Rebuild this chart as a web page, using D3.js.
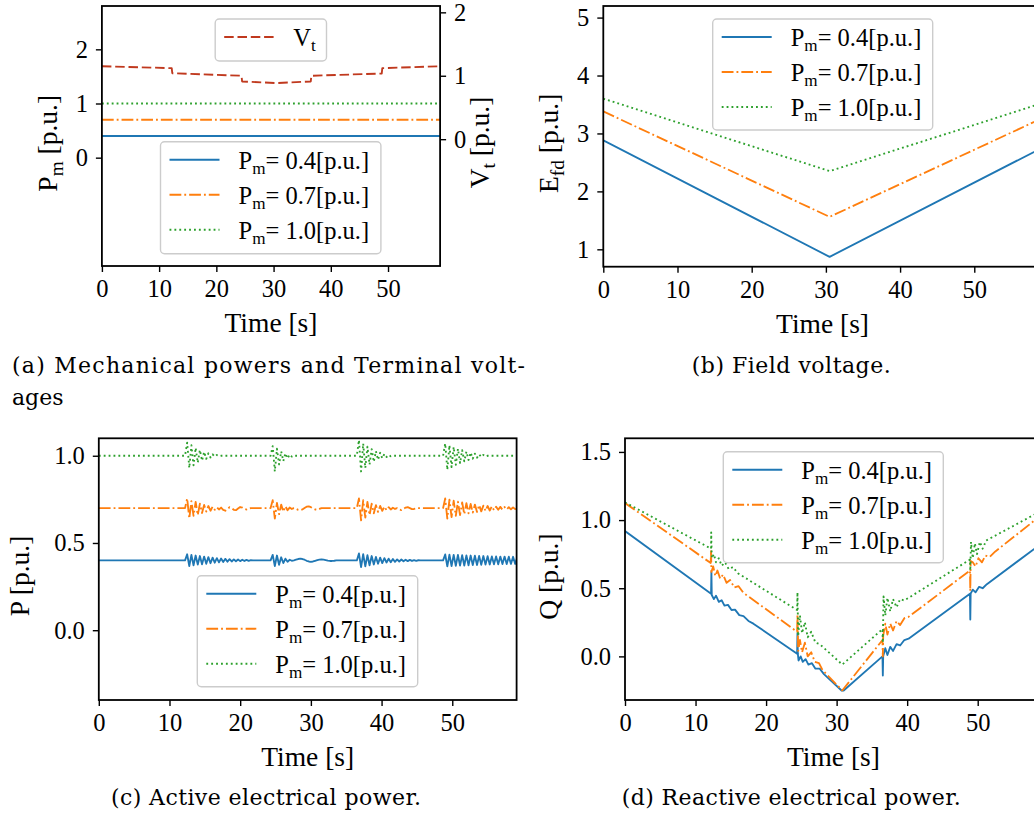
<!doctype html>
<html lang="en">
<head>
  <meta charset="utf-8">
  <title>Generator response to Pm steps</title>
  <script src="https://d3js.org/d3.v7.min.js"></script>
  <style>
    body { margin: 0; background: #fff; }
    svg text { fill: #000; white-space: pre; }
  </style>
</head>
<body>
<div id="chart"></div>
<script>
// ---------------- data ----------------
var tEnd = 59.1;                        // last simulated second
var xTicks = [0, 10, 20, 30, 40, 50];
var pmValues = [0.4, 0.7, 1.0];
var pmLabels = ["0.4", "0.7", "1.0"];

// (a) terminal voltage
var vtTime  = [0, 12.2, 12.3, 24.4, 24.5, 30.5, 36.5, 36.6, 48.9, 49.0, 59.1];
var vtValue = [1.15, 1.12, 1.04, 1.00, 0.91, 0.885, 0.91, 1.00, 1.035, 1.12, 1.15];

// (b) field voltage
var efdTime = [0, 30.5, 59.1];
var efd04 = [2.88, 0.87, 2.75];
var efd07 = [3.38, 1.56, 3.26];
var efd10 = [3.60, 2.35, 3.52];

// (c) active power: samples of the swing after each event, one every pStep seconds
var eventTimes = [12.2, 24.3, 36.5, 48.7];
var pStep = 0.3;
var p04Bursts = [
  [0.40, 0.435, 0.368, 0.432, 0.372, 0.428, 0.376, 0.425, 0.378, 0.422, 0.381, 0.419, 0.384, 0.416, 0.387, 0.413,
   0.389, 0.411, 0.391, 0.409, 0.393, 0.407, 0.394, 0.406, 0.395, 0.405, 0.396, 0.404, 0.397, 0.403, 0.398, 0.402, 0.40],
  [0.40, 0.432, 0.368, 0.428, 0.375, 0.418, 0.385, 0.41, 0.392, 0.404, 0.398, 0.40, 0.404, 0.408, 0.41, 0.408,
   0.404, 0.398, 0.394, 0.392, 0.394, 0.398, 0.402, 0.405, 0.406, 0.405, 0.402, 0.399, 0.397, 0.397, 0.398, 0.40],
  [0.40, 0.44, 0.362, 0.436, 0.366, 0.43, 0.372, 0.425, 0.377, 0.42, 0.381, 0.416, 0.385, 0.413, 0.388, 0.41,
   0.39, 0.408, 0.392, 0.406, 0.394, 0.405, 0.395, 0.404, 0.396, 0.403, 0.397, 0.402, 0.398, 0.401, 0.40],
  [0.40, 0.434, 0.366, 0.433, 0.368, 0.432, 0.369, 0.431, 0.37, 0.43, 0.371, 0.429, 0.372, 0.428, 0.373, 0.427,
   0.374, 0.426, 0.375, 0.425, 0.376, 0.424, 0.377, 0.423, 0.378, 0.423, 0.378, 0.422, 0.379, 0.422, 0.379, 0.421,
   0.38, 0.421, 0.38, 0.42]
];
var p07Bursts = [
  [0.70, 0.755, 0.64, 0.74, 0.655, 0.735, 0.66, 0.725, 0.672, 0.718, 0.68, 0.712, 0.685, 0.708, 0.69, 0.705,
   0.692, 0.703, 0.69, 0.685, 0.695, 0.705, 0.70, 0.69, 0.688, 0.697, 0.706, 0.703, 0.695, 0.692, 0.698, 0.70],
  [0.70, 0.745, 0.64, 0.73, 0.665, 0.72, 0.68, 0.71, 0.688, 0.703, 0.695, 0.70, 0.696, 0.69, 0.688, 0.692,
   0.70, 0.708, 0.71, 0.705, 0.698, 0.692, 0.69, 0.695, 0.70],
  [0.70, 0.755, 0.63, 0.745, 0.645, 0.735, 0.66, 0.725, 0.67, 0.717, 0.678, 0.712, 0.684, 0.708, 0.688, 0.705,
   0.692, 0.702, 0.695, 0.70, 0.692, 0.688, 0.695, 0.703, 0.705, 0.70, 0.694, 0.695, 0.70],
  [0.70, 0.755, 0.64, 0.748, 0.648, 0.742, 0.655, 0.737, 0.66, 0.732, 0.665, 0.728, 0.67, 0.724, 0.674, 0.72,
   0.678, 0.717, 0.681, 0.714, 0.684, 0.712, 0.686, 0.71, 0.688, 0.708, 0.69, 0.707, 0.691, 0.706, 0.692, 0.705,
   0.693, 0.704, 0.694, 0.704]
];
var p10Bursts = [
  [1.0, 1.075, 0.93, 1.06, 0.945, 1.045, 0.96, 1.033, 0.972, 1.022, 0.982, 1.014, 0.99, 1.008, 0.995, 1.004, 0.998, 1.0],
  [1.0, 1.055, 0.91, 1.04, 0.95, 1.025, 0.97, 1.014, 0.985, 1.007, 0.995, 1.002, 1.0],
  [1.0, 1.09, 0.91, 1.07, 0.93, 1.052, 0.95, 1.038, 0.965, 1.026, 0.977, 1.017, 0.986, 1.01, 0.993, 1.005, 0.997, 1.0],
  [1.0, 1.07, 0.92, 1.06, 0.935, 1.05, 0.948, 1.04, 0.958, 1.032, 0.968, 1.024, 0.976, 1.018, 0.983, 1.012,
   0.989, 1.008, 0.993, 1.005, 0.996, 1.0]
];

// (d) reactive power, [t, Q]
var q04 = [[0, 0.92], [12.2, 0.46], [12.25, 0.62], [12.3, 0.45], [12.6, 0.42], [12.9, 0.445], [13.3, 0.40],
  [13.7, 0.412], [14.1, 0.372], [14.6, 0.378], [15.1, 0.34], [15.6, 0.343], [16.2, 0.303], [16.8, 0.296],
  [17.5, 0.26], [18.2, 0.24], [24.4, 0.02], [24.45, 0.17], [24.5, 0.02], [24.6, -0.03], [24.9, 0.0],
  [25.2, -0.04], [25.6, -0.02], [26.0, -0.06], [26.5, -0.05], [27.0, -0.09], [27.6, -0.09], [28.2, -0.13],
  [30.7, -0.25], [31.0, -0.25], [36.5, 0.0], [36.55, -0.14], [36.6, 0.0], [36.9, 0.06], [37.2, 0.01],
  [37.6, 0.07], [38.0, 0.04], [38.5, 0.09], [39.0, 0.08], [39.6, 0.12], [40.2, 0.13], [48.9, 0.46],
  [48.95, 0.27], [49.0, 0.46], [49.3, 0.49], [49.7, 0.47], [50.2, 0.51], [50.7, 0.50], [51.3, 0.53], [59.1, 0.83]];
var q07 = [[0, 1.125], [12.15, 0.685], [12.2, 0.78], [12.25, 0.62], [12.5, 0.66], [12.8, 0.59], [13.1, 0.63],
  [13.5, 0.57], [13.9, 0.60], [14.4, 0.54], [14.9, 0.56], [15.5, 0.505], [16.1, 0.515], [16.8, 0.465],
  [17.5, 0.44], [24.4, 0.18], [24.45, 0.31], [24.55, 0.04], [24.8, 0.12], [25.1, 0.03], [25.5, 0.10],
  [25.9, 0.0], [26.4, 0.03], [26.9, -0.04], [27.5, -0.05], [28.0, -0.10], [30.8, -0.25], [36.5, 0.12],
  [36.55, 0.0], [36.6, 0.15], [36.9, 0.24], [37.2, 0.16], [37.6, 0.24], [38.0, 0.19], [38.5, 0.26],
  [39.0, 0.23], [39.6, 0.28], [40.2, 0.29], [48.9, 0.63], [48.95, 0.48], [49.0, 0.70], [49.3, 0.69],
  [49.7, 0.66], [50.1, 0.72], [50.6, 0.69], [51.1, 0.74], [51.7, 0.73], [52.5, 0.77], [59.1, 1.04]];
var q10 = [[0, 1.13], [12.2, 0.79], [12.22, 0.91], [12.3, 0.72], [12.6, 0.75], [12.9, 0.69], [13.3, 0.72],
  [13.7, 0.665], [14.2, 0.69], [14.7, 0.64], [15.3, 0.655], [16.0, 0.61], [24.4, 0.34], [24.45, 0.47],
  [24.55, 0.15], [24.8, 0.30], [25.1, 0.17], [25.5, 0.25], [25.9, 0.14], [26.4, 0.18], [27.0, 0.10],
  [27.6, 0.09], [30.8, -0.06], [36.5, 0.2], [36.55, 0.10], [36.65, 0.44], [36.9, 0.30], [37.2, 0.43],
  [37.6, 0.33], [38.0, 0.42], [38.5, 0.36], [39.0, 0.42], [39.6, 0.41], [48.9, 0.71], [48.95, 0.63],
  [49.05, 0.84], [49.3, 0.72], [49.6, 0.83], [49.9, 0.75], [50.3, 0.84], [50.7, 0.79], [51.2, 0.85], [59.1, 1.07]];

// ---------------- style ----------------
var colors = ["#1f77b4", "#ff7f0e", "#2ca02c"];
var dashes = [null, "11.8,3,1.85,3", "1.85,3.05"];
var vtColor = "#c0391e";
var vtDash = "9.5,3.8";
var lw = 1.85;
var SERIF = "'Liberation Serif', 'Times New Roman', Times, serif";
var CAP_FONT = "'DejaVu Serif', serif";
var FS_TICK = 24.5, FS_LABEL = 27.5, FS_LEG = 24.5, FS_CAP = 22;

var svg = d3.select("#chart").append("svg")
  .attr("width", 1034)
  .attr("height", 815);

function makeAxes(id, box, yDomain) {
  var x = d3.scaleLinear().domain([0, tEnd]).range([box.left, box.right]);
  var y = d3.scaleLinear().domain(yDomain).range([box.bottom, box.top]);
  svg.append("clipPath").attr("id", id).append("rect")
    .attr("x", box.left).attr("y", box.top)
    .attr("width", box.right - box.left).attr("height", box.bottom - box.top);
  return {x: x, y: y, box: box, clip: "url(#" + id + ")"};
}

function drawLine(ax, pts, color, dash) {
  var line = d3.line().x(function(d) { return ax.x(d[0]); }).y(function(d) { return ax.y(d[1]); });
  svg.append("path")
    .attr("clip-path", ax.clip)
    .attr("d", line(pts))
    .attr("fill", "none")
    .attr("stroke", color)
    .attr("stroke-width", lw)
    .attr("stroke-dasharray", dash)
    .attr("stroke-linejoin", "round");
}

function styleAxis(g) {
  g.attr("font-family", null).attr("font-size", null);
  g.select(".domain").remove();
  g.selectAll(".tick line").attr("stroke", "#000").attr("stroke-width", 1.4);
  g.selectAll(".tick text").attr("font-size", FS_TICK).attr("fill", "#000");
}

function drawFrame(ax, yTicks, yFmt) {
  var b = ax.box;
  svg.append("g").attr("transform", "translate(0," + b.bottom + ")")
    .call(d3.axisBottom(ax.x).tickValues(xTicks).tickFormat(d3.format("d")).tickSize(6).tickPadding(8))
    .call(styleAxis);
  svg.append("g").attr("transform", "translate(" + b.left + ",0)")
    .call(d3.axisLeft(ax.y).tickValues(yTicks).tickFormat(yFmt).tickSize(6).tickPadding(8))
    .call(styleAxis);
  svg.append("rect")
    .attr("x", b.left).attr("y", b.top)
    .attr("width", b.right - b.left).attr("height", b.bottom - b.top)
    .attr("fill", "none").attr("stroke", "#000").attr("stroke-width", 1.8);
  svg.append("text")
    .attr("x", (b.left + b.right) / 2).attr("y", b.bottom + 66)
    .attr("text-anchor", "middle").attr("font-size", FS_LABEL)
    .text("Time [s]");
}

// text with one subscript: main_sub rest
function subText(t, size, main, sub, rest) {
  t.append("tspan").text(main);
  t.append("tspan").attr("font-size", size * 0.7).attr("dy", size * 0.22).text(sub);
  t.append("tspan").attr("dy", -size * 0.22).text(rest);
}

function yLabel(x, y, main, sub, rest) {
  var t = svg.append("text")
    .attr("transform", "translate(" + x + "," + y + ") rotate(-90)")
    .attr("text-anchor", "middle")
    .attr("font-size", FS_LABEL);
  if (sub) subText(t, FS_LABEL, main, sub, rest);
  else t.text(main);
}

function legend(left, top, w, h, entries) {
  var g = svg.append("g");
  g.append("rect")
    .attr("x", left).attr("y", top).attr("width", w).attr("height", h).attr("rx", 4)
    .attr("fill", "#fff").attr("fill-opacity", 0.8)
    .attr("stroke", "#cccccc").attr("stroke-width", 1.4);
  entries.forEach(function(e, i) {
    var ry = top + 18 + i * 35;
    g.append("line")
      .attr("x1", left + 9).attr("x2", left + 59).attr("y1", ry).attr("y2", ry)
      .attr("stroke", e.color).attr("stroke-width", lw).attr("stroke-dasharray", e.dash);
    var t = g.append("text").attr("x", left + 78).attr("y", ry + 9).attr("font-size", FS_LEG);
    subText(t, FS_LEG, e.main, e.sub, e.rest);
  });
}

function pmEntries() {
  return pmLabels.map(function(s, i) {
    return {color: colors[i], dash: dashes[i], main: "P", sub: "m", rest: "= " + s + "[p.u.]"};
  });
}

var captions = [];
function caption(x, y, str, width) {
  var t = svg.append("text").attr("x", x).attr("y", y).attr("font-size", FS_CAP).text(str);
  if (width) t.attr("textLength", width).attr("lengthAdjust", "spacing");
  captions.push(t);
}

// ---------------- (a) ----------------
var axA = makeAxes("clipA", {left: 101.9, right: 440.1, top: 6, bottom: 266}, [-2, 2.8]);
var yVt = d3.scaleLinear().domain([-2, 2.1]).range([266, 6]);
pmValues.forEach(function(v, i) {
  drawLine(axA, [[0, v], [tEnd, v]], colors[i], dashes[i]);
});
drawLine({x: axA.x, y: yVt, clip: axA.clip}, vtTime.map(function(t, i) { return [t, vtValue[i]]; }), vtColor, vtDash);
drawFrame(axA, [0, 1, 2], d3.format("d"));
svg.append("g").attr("transform", "translate(" + axA.box.right + ",0)")
  .call(d3.axisRight(yVt).tickValues([0, 1, 2]).tickFormat(d3.format("d")).tickSize(6).tickPadding(8))
  .call(styleAxis);
yLabel(56.5, 143.3, "P", "m", " [p.u.]");
yLabel(488.5, 142.5, "V", "t", " [p.u.]");
legend(215.2, 19, 111.3, 42, [{color: vtColor, dash: vtDash, main: "V", sub: "t", rest: ""}]);
legend(160.5, 141.7, 220.4, 112, pmEntries());
caption(12, 372.7, "(a) Mechanical powers and Terminal volt-", 513);
caption(12, 405, "ages");

// ---------------- (b) ----------------
var axB = makeAxes("clipB", {left: 603.3, right: 1041.8, top: 6, bottom: 266.7}, [0.7, 5.2]);
[efd04, efd07, efd10].forEach(function(s, i) {
  drawLine(axB, efdTime.map(function(t, j) { return [t, s[j]]; }), colors[i], dashes[i]);
});
drawFrame(axB, [1, 2, 3, 4, 5], d3.format("d"));
yLabel(558, 143.3, "E", "fd", " [p.u.]");
legend(712.7, 19, 220, 111, pmEntries());
caption(691.7, 373.3, "(b) Field voltage.", 199);

// ---------------- (c) ----------------
var axC = makeAxes("clipC", {left: 98.8, right: 516.6, top: 438.3, bottom: 700}, [-0.4, 1.1]);
function burstLine(base, bursts) {
  var pts = [[0, base]];
  bursts.forEach(function(vals, i) {
    vals.forEach(function(v, j) { pts.push([eventTimes[i] + j * pStep, v]); });
  });
  if (pts[pts.length - 1][0] < tEnd) pts.push([tEnd, base]);
  return pts;
}
[p04Bursts, p07Bursts, p10Bursts].forEach(function(b, i) {
  drawLine(axC, burstLine(pmValues[i], b), colors[i], dashes[i]);
});
drawFrame(axC, [0, 0.5, 1.0], d3.format(".1f"));
yLabel(29, 576, "P [p.u.]");
legend(197.3, 575.7, 220.4, 111, pmEntries());
caption(110.9, 805, "(c) Active electrical power.", 310);

// ---------------- (d) ----------------
var axD = makeAxes("clipD", {left: 625, right: 1041.9, top: 438.3, bottom: 700}, [-0.32, 1.6]);
[q04, q07, q10].forEach(function(s, i) {
  drawLine(axD, s, colors[i], dashes[i]);
});
drawFrame(axD, [0, 0.5, 1.0, 1.5], d3.format(".1f"));
yLabel(558, 576.5, "Q [p.u.]");
legend(723.3, 451.7, 220, 111, pmEntries());
caption(621.7, 805, "(d) Reactive electrical power.", 339);

// plot text in Times-like face, captions in a wider serif
svg.selectAll("text").style("font-family", SERIF);
captions.forEach(function(t) { t.style("font-family", CAP_FONT); });
</script>
</body>
</html>
